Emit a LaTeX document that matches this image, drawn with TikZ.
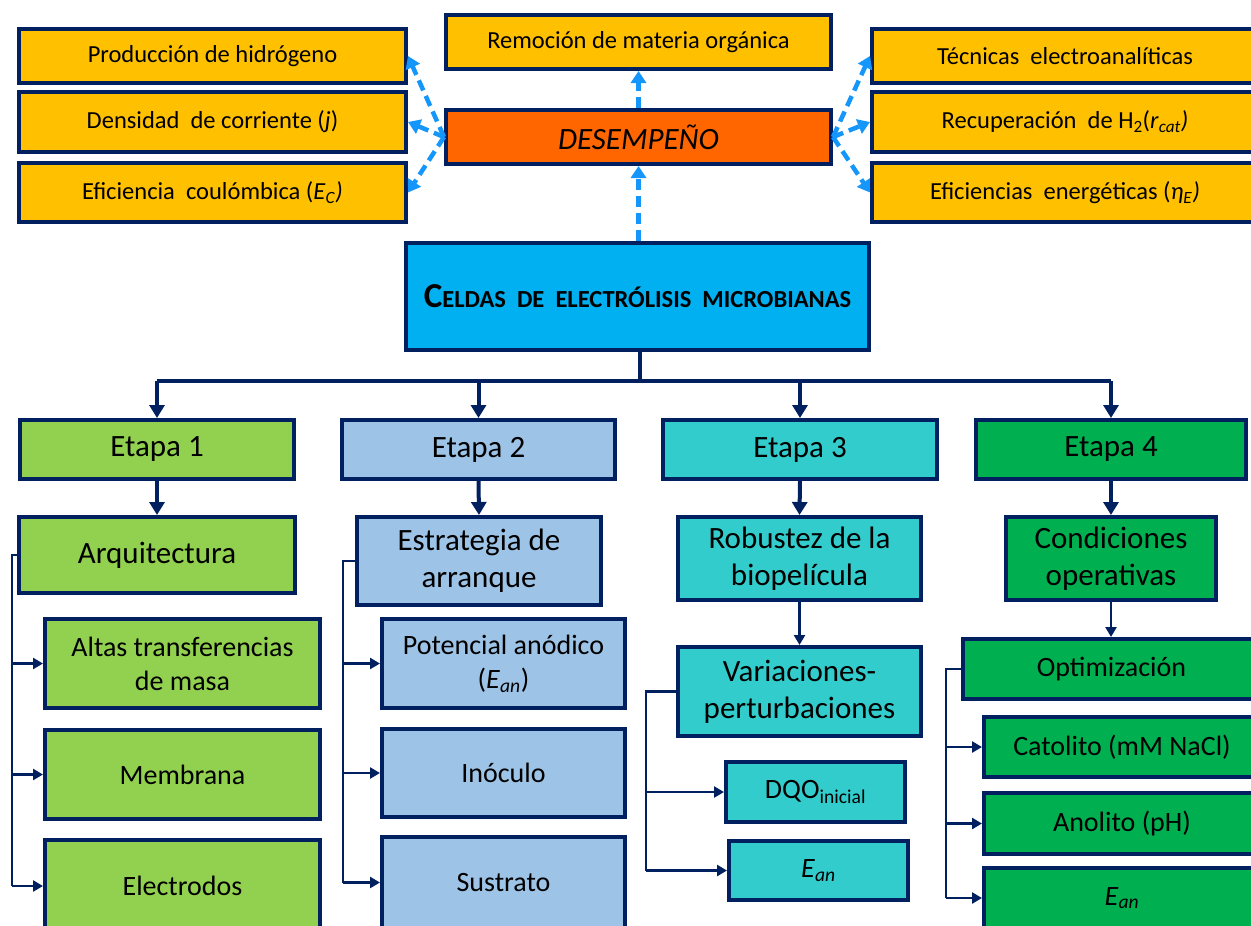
\documentclass[tikz,border=0pt]{standalone}
\usepackage{fontspec}
\setmainfont{Carlito}
\usetikzlibrary{arrows.meta}
\definecolor{navy}{RGB}{0,32,96}
\definecolor{gold}{RGB}{255,192,0}
\definecolor{orng}{RGB}{255,102,0}
\definecolor{cyanb}{RGB}{0,176,240}
\definecolor{lgreen}{RGB}{146,208,80}
\definecolor{lblue}{RGB}{157,195,230}
\definecolor{tealc}{RGB}{51,204,204}
\definecolor{dgreen}{RGB}{0,176,80}
\definecolor{dashblue}{RGB}{20,150,250}
\newcommand\mkbox[7]{\node[#6, minimum width={#4-#2}, minimum height={#5-#3}] (#1) at ({(#2+#4)/2},{(#3+#5)/2}) {#7};}
\tikzset{
  box/.style={draw=navy, line width=4pt, inner sep=0pt, align=center, text=black},
  topbox/.style={box, fill=gold, font={\fontsize{24.5}{29}\selectfont}},
  big/.style={font={\fontsize{31}{37}\selectfont}},
  mid/.style={font={\fontsize{28}{34}\selectfont}},
  conn/.style={draw=navy, line width=4pt},
  arr/.style={-{Triangle[length=13pt,width=15pt]}},
  sub/.style={draw=navy, line width=2.8pt},
  sarr/.style={-{Triangle[length=10pt,width=11pt]}},
  dasharr/.style={draw=dashblue, line width=4.5pt, dash pattern=on 11pt off 6pt, -{Triangle[length=12pt,width=15pt]}}
}
\begin{document}
\begin{tikzpicture}[x=1pt,y=-1pt]
\useasboundingbox (0,0) rectangle (1251,926);
\clip (0,0) rectangle (1251,926);
% top boxes
\mkbox{prod}{19}{29}{406}{83}{topbox}{Producción de hidrógeno}
\mkbox{dens}{19}{92}{406}{152}{topbox}{Densidad\ \ de corriente (\textit{j})}
\mkbox{efic}{19}{163}{406}{222}{topbox}{Eficiencia\ \ coulómbica (\textit{E}\textsubscript{\textit{C}}\textit{)}}
\mkbox{remo}{446}{15}{831}{69}{topbox}{Remoción de materia orgánica}
\mkbox{desem}{446}{110}{831}{164}{box, fill=orng, font={\fontsize{31}{37}\selectfont\itshape}}{DESEMPEÑO}
\mkbox{tecn}{872}{29}{1258}{83}{topbox}{Técnicas\ \ electroanalíticas}
\mkbox{recu}{872}{92}{1258}{152}{topbox}{Recuperación\ \ de H\textsubscript{2}(\textit{r}\textsubscript{\textit{cat}}\textit{)}}
\mkbox{efen}{872}{163}{1258}{222}{topbox}{Eficiencias\ \ energéticas (\textit{η}\textsubscript{\textit{E}}\textit{)}}
\mkbox{celdas}{406}{243}{869}{350}{box, fill=cyanb}{\bfseries\fontsize{35}{40}\selectfont C\fontsize{24.5}{28}\selectfont ELDAS\ \ DE\ \ ELECTRÓLISIS\ \ MICROBIANAS}
% etapas
\mkbox{e1}{20}{420}{294}{479}{box, big, fill=lgreen}{Etapa 1}
\mkbox{e2}{342}{420}{615}{479}{box, big, fill=lblue}{Etapa 2}
\mkbox{e3}{663}{420}{937}{479}{box, big, fill=tealc}{Etapa 3}
\mkbox{e4}{976}{420}{1246}{479}{box, big, fill=dgreen}{Etapa 4}
% second level
\mkbox{arq}{19}{517}{295}{593}{box, big, fill=lgreen}{Arquitectura}
\mkbox{estr}{357}{517}{601}{605}{box, big, fill=lblue}{Estrategia de\\arranque}
\mkbox{robu}{678}{517}{921}{600}{box, big, fill=tealc}{Robustez de la\\biopelícula}
\mkbox{cond}{1006}{517}{1216}{600}{box, big, fill=dgreen}{Condiciones\\operativas}
% column 1
\mkbox{altas}{45}{619}{320}{708}{box, mid, fill=lgreen}{Altas transferencias\\de masa}
\mkbox{memb}{45}{730}{320}{819}{box, mid, fill=lgreen}{Membrana}
\mkbox{elec}{45}{840}{320}{932}{box, mid, fill=lgreen}{Electrodos}
% column 2
\mkbox{pot}{382}{619}{625}{708}{box, mid, fill=lblue}{Potencial anódico\\(\textit{E}\textsubscript{\textit{an}})}
\mkbox{inoc}{382}{729}{625}{817}{box, mid, fill=lblue}{Inóculo}
\mkbox{sust}{382}{837}{625}{928}{box, mid, fill=lblue}{Sustrato}
% column 3
\mkbox{vari}{678}{647}{921}{736}{box, big, fill=tealc}{Variaciones-\\perturbaciones}
\mkbox{dqo}{726}{762}{905}{822}{box, mid, fill=tealc}{DQO\textsubscript{inicial}}
\mkbox{eant}{729}{841}{908}{900}{box, mid, fill=tealc}{\textit{E}\textsubscript{\textit{an}}}
% column 4
\mkbox{opti}{963}{639}{1260}{699}{box, mid, fill=dgreen}{Optimización}
\mkbox{cato}{984}{717}{1260}{777}{box, mid, fill=dgreen}{Catolito (mM NaCl)}
\mkbox{anol}{984}{793}{1260}{854}{box, mid, fill=dgreen}{Anolito (pH)}
\mkbox{eanf}{984}{868}{1260}{928}{box, mid, fill=dgreen}{\textit{E}\textsubscript{\textit{an}}}
% dashed arrows
\draw[dasharr] (celdas.north -| desem.south) -- (desem.south);
\draw[dasharr] (desem.north) -- (remo.south);
\draw[dasharr] (desem.west) -- (prod.east);
\draw[dasharr] (desem.west) -- (dens.east);
\draw[dasharr] (desem.west) -- (efic.east);
\draw[dasharr] (desem.east) -- (tecn.west);
\draw[dasharr] (desem.east) -- (recu.west);
\draw[dasharr] (desem.east) -- (efen.west);
% main tree
\coordinate (bus) at (640,381);
\draw[conn] (celdas.south -| bus) -- (bus);
\draw[conn] (e1.north |- bus) -- (e4.north |- bus);
\foreach \e in {e1,e2,e3,e4} \draw[conn,arr] (\e.north |- bus) -- (\e.north);
\draw[conn,arr] (e1.south) -- (arq.north);
\draw[conn,arr] (e2.south) -- (estr.north);
\draw[conn,arr] (e3.south) -- (robu.north);
\draw[conn,arr] (e4.south) -- (cond.north);
\draw[sub,sarr] (robu.south) -- (robu.south |- vari.north);
\draw[sub,sarr] (cond.south) -- (cond.south |- opti.north);
% sub buses
\coordinate (b1) at (12,0);
\draw[sub] (arq.west) -- (arq.west -| b1) -- (elec.west -| b1);
\foreach \c in {altas,memb,elec} \draw[sub,sarr] (\c.west -| b1) -- (\c.west);
\coordinate (b2) at (343,0);
\draw[sub] (estr.west) -- (estr.west -| b2) -- (sust.west -| b2);
\foreach \c in {pot,inoc,sust} \draw[sub,sarr] (\c.west -| b2) -- (\c.west);
\coordinate (b3) at (646,0);
\draw[sub] (vari.west) -- (vari.west -| b3) -- (eant.west -| b3);
\foreach \c in {dqo,eant} \draw[sub,sarr] (\c.west -| b3) -- (\c.west);
\coordinate (b4) at (946,0);
\draw[sub] (opti.west) -- (opti.west -| b4) -- (eanf.west -| b4);
\foreach \c in {cato,anol,eanf} \draw[sub,sarr] (\c.west -| b4) -- (\c.west);
\end{tikzpicture}
\end{document}
